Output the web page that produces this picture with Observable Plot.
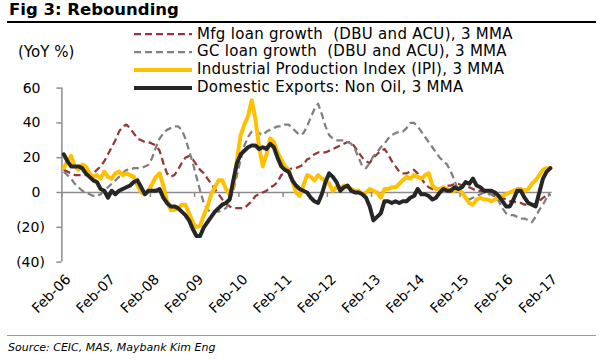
<!DOCTYPE html>
<html>
<head>
<meta charset="utf-8">
<script src="https://cdn.jsdelivr.net/npm/d3@7"></script>
<script src="https://cdn.jsdelivr.net/npm/@observablehq/plot@0.6"></script>
<style>
  body { margin: 0; background: #fff; }
  #wrap { position: relative; width: 600px; height: 360px; overflow: hidden; font-family: "DejaVu Sans", sans-serif; color: #000; }
  #title { position: absolute; left: 9px; top: 0px; font-size: 16.5px; font-weight: bold; line-height: 20px; white-space: pre; }
  #titleRule { position: absolute; left: 7px; top: 21px; width: 589px; height: 2px; background: #000; }
  #unit { position: absolute; left: 18px; top: 43px; font-size: 15px; line-height: 18px; white-space: pre; }
  #legend { position: absolute; left: 133px; top: 25.6px; font-size: 15px; letter-spacing: 0.3px; }
  .row { height: 17.7px; line-height: 17.7px; display: flex; align-items: center; white-space: pre; }
  .row svg { margin-right: 4px; flex: none; }
  #chart { position: absolute; left: 0; top: 28px; }
  #srcRule { position: absolute; left: 7px; top: 335px; width: 589px; height: 1px; background: #9a9a9a; }
  #source { position: absolute; left: 8px; top: 341px; font-size: 11px; font-style: italic; line-height: 14px; white-space: pre; }
</style>
</head>
<body>
<div id="wrap">
  <div id="title"></div>
  <div id="titleRule"></div>
  <div id="unit"></div>
  <div id="legend"></div>
  <div id="chart"></div>
  <div id="srcRule"></div>
  <div id="source"></div>
</div>
<script>
// ---- text ----
const titleText = "Fig 3: Rebounding";
const unitText = "(YoY %)";
const sourceText = "Source: CEIC, MAS, Maybank Kim Eng";

// ---- categories: monthly, Feb-06 .. Feb-17 ----
const firstMonth = new Date(Date.UTC(2006, 1, 1));
const endMonth = new Date(Date.UTC(2017, 2, 1));
const months = d3.utcMonth.range(firstMonth, endMonth);

// ---- tick labels ----
const xTickLabels = ["Feb-06","Feb-07","Feb-08","Feb-09","Feb-10","Feb-11","Feb-12","Feb-13","Feb-14","Feb-15","Feb-16","Feb-17"];
const yTicks = [-40, -20, 0, 20, 40, 60];

// ---- series (YoY %, 3MMA) ----
const mfgLoan = [
  13,12,11,10,10,10,10,11,11,13,
  15,18,22,26,30,35,38,39,37,34,
  31,30,29,29,28,27,24,17,11,9,
  10,13,17,20,21,19,16,13,11,8,
  5,2,-1,-4,-6,-8,-9,-9,-9,-9,
  -7,-5,-2,-1,0,1,3,4,6,10,
  11,13,14,14,15,16,19,20,22,23,
  23,23,24,25,26,27,28,29,29,26,
  23,20,18,17,20,22,24,25,22,18,
  15,12,11,11,12,13,11,8,5,3,
  2,2,2,3,4,4,5,5,4,4,
  3,2,1,1,0,-1,-1,-2,-2,-3,
  -4,-5,-5,-6,-6,-7,-7,-7,-7,-5,
  -3,-2,-1
];
const gcLoan = [
  12,10,8,5,3,1,0,-1,-2,-2,
  -1,1,3,5,7,9,11,13,13,14,
  14,14,15,16,20,26,31,34,36,37,
  38,38,36,31,24,17,9,1,-6,-10,
  -11,-11,-11,-10,-9,-5,1,10,19,27,
  32,35,36,34,33,35,36,37,38,38,
  39,39,37,35,33,34,38,43,48,51,
  45,38,33,31,30,30,30,29,28,25,
  20,15,14,17,21,23,26,28,31,33,
  34,35,35,37,40,40,38,35,32,29,
  26,23,20,18,16,12,7,1,-1,-2,
  -4,-3,-2,-1,0,-1,-1,-3,-5,-9,
  -12,-13,-13,-14,-15,-15,-16,-17,-14,-10,
  -7,-3,-1
];
const ipi = [
  14,18,21,15,13,16,15,11,9,10,
  8,12,9,8,11,12,10,11,10,9,
  4,0,-1,1,5,9,11,4,-5,-10,
  -10,-9,-7,-7,-12,-17,-20,-19,-13,-8,
  -1,3,7,7,2,-1,4,19,33,39,
  44,53,42,26,15,22,31,29,23,19,
  15,13,7,0,-2,4,10,9,7,10,
  8,7,5,1,3,2,4,3,2,1,
  1,-1,0,2,1,0,-3,2,2,3,
  3,5,7,9,8,10,9,8,10,11,
  4,2,2,3,2,1,1,2,0,-3,
  -6,-7,-4,-3,-4,-4,-5,-4,-3,-2,
  -1,0,1,2,2,1,2,5,7,10,
  13,14,14
];
const domExports = [
  22,18,15,15,15,14,11,9,7,6,
  2,1,-3,1,-1,1,2,3,4,6,
  7,3,-1,1,1,1,2,-3,-6,-8,
  -8,-9,-11,-13,-16,-21,-25,-25,-20,-17,
  -14,-11,-9,-7,-6,-4,7,17,22,24,
  26,27,27,25,26,25,28,26,20,15,
  13,12,7,4,2,1,0,-3,-5,-6,
  -1,6,11,9,6,1,3,4,1,0,
  0,-1,-3,-8,-16,-14,-12,-5,-5,-6,
  -5,-6,-5,-5,-3,-2,2,-1,-1,-2,
  -4,-3,0,2,1,1,3,2,3,6,
  5,8,4,3,1,1,1,0,-2,-5,
  -8,-8,-4,1,1,-3,-6,-7,-8,0,
  8,12,14
];

// ---- series styling / legend ----
const seriesNames = [
  "Mfg loan growth  (DBU and ACU), 3 MMA",
  "GC loan growth  (DBU and ACU), 3 MMA",
  "Industrial Production Index (IPI), 3 MMA",
  "Domestic Exports: Non Oil, 3 MMA"
];
const seriesValues = [mfgLoan, gcLoan, ipi, domExports];
const seriesColors = ["#953735", "#808080", "#FFC000", "#262626"];
const seriesWidths = [2.25, 2.25, 4, 4];
const seriesDashes = ["7,4", "7,4", null, null];

document.getElementById("title").textContent = titleText;
document.getElementById("unit").textContent = unitText;
document.getElementById("source").textContent = sourceText;

// legend
const legend = d3.select("#legend");
seriesNames.forEach((name, k) => {
  const row = legend.append("div").attr("class", "row");
  const s = row.append("svg").attr("width", 60).attr("height", 8);
  s.append("line").attr("x1", 1).attr("x2", 59).attr("y1", 4).attr("y2", 4)
    .attr("stroke", seriesColors[k]).attr("stroke-width", seriesWidths[k])
    .attr("stroke-dasharray", seriesDashes[k]);
  row.append("span").text(name);
});

const N = months.length;
const tickIdx = xTickLabels.map((_, k) => k * 12);
const boundaries = tickIdx.map(i => i - 0.5);
const fmtY = d => d < 0 ? `(${-d})` : `${d}\u2008`;

const lineMarks = seriesValues.map((arr, k) =>
  Plot.lineY(arr, {
    x: (d, i) => i, y: d => d,
    stroke: seriesColors[k], strokeWidth: seriesWidths[k],
    strokeDasharray: seriesDashes[k] || undefined,
    strokeLinejoin: "round",
    strokeLinecap: seriesDashes[k] ? "butt" : "round"
  })
);

const chart = Plot.plot({
  width: 600,
  height: 300,
  marginLeft: 61.4,
  marginRight: 48.3,
  marginTop: 59.6,
  marginBottom: 66.4,
  x: {type: "linear", domain: [-0.5, N - 0.5]},
  y: {domain: [-40, 60]},
  style: {fontFamily: "DejaVu Sans", fontSize: "14px", color: "#000", background: "transparent"},
  marks: [
    Plot.ruleY([0], {stroke: "#8c8c8c", strokeWidth: 1.5}),
    Plot.ruleX(boundaries, {x: d => d, y1: 0, y2: 0, insetBottom: -5, stroke: "#8c8c8c", strokeWidth: 1.5}),
    Plot.ruleX([-0.5], {stroke: "#8c8c8c", strokeWidth: 1.5}),
    Plot.axisY({ticks: yTicks, tickSize: 5, tickPadding: 12, tickFormat: fmtY, stroke: "#8c8c8c", strokeWidth: 1.5, fill: "#000", label: null}),
    Plot.axisX({ticks: tickIdx, tickSize: 0, tickPadding: 15, tickRotate: -45, tickFormat: d => xTickLabels[Math.round(d / 12)], dx: 4.6, fill: "#000", label: null}),
    ...lineMarks
  ]
});
document.getElementById("chart").appendChild(chart);
</script>
</body>
</html>
